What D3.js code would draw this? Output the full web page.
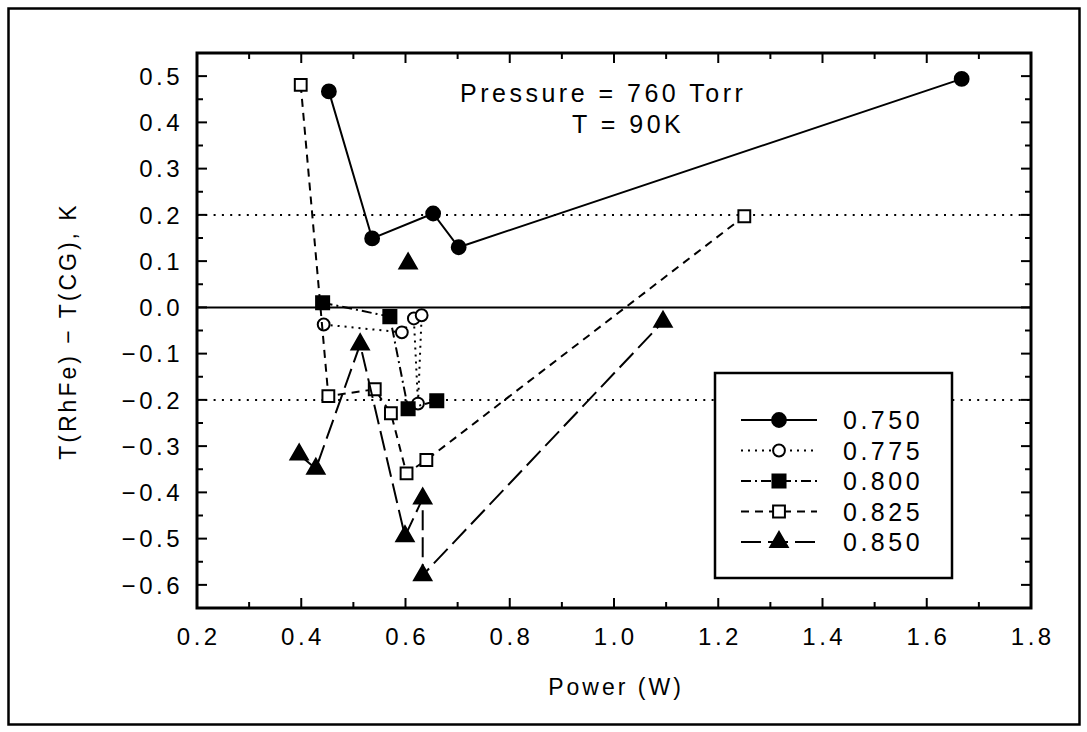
<!DOCTYPE html>
<html>
<head>
<meta charset="utf-8">
<script src="https://cdn.jsdelivr.net/npm/d3@7"></script>
<style>
  html, body { margin: 0; padding: 0; background: #fff; }
  svg text { font-family: "Liberation Sans", Arial, Helvetica, sans-serif; fill: #000; }
</style>
</head>
<body>
<div id="chart"></div>
<script>
// data
const seriesNames = ['0.750', '0.775', '0.800', '0.825', '0.850'];

const power750 = [0.453, 0.536, 0.653, 0.702, 1.667];
const dT750    = [0.467, 0.149, 0.203, 0.130, 0.494];

const power775 = [0.443, 0.593, 0.616, 0.624, 0.631];
const dT775    = [-0.037, -0.054, -0.024, -0.208, -0.017];

const power800 = [0.441, 0.570, 0.605, 0.660];
const dT800    = [0.010, -0.020, -0.219, -0.202];

const power825 = [0.399, 0.452, 0.541, 0.572, 0.602, 0.640, 1.250];
const dT825    = [0.481, -0.192, -0.177, -0.229, -0.359, -0.330, 0.197];

const power850 = [0.396, 0.428, 0.513, 0.599, 0.633, 0.633, 1.094];
const dT850    = [-0.318, -0.349, -0.080, -0.495, -0.413, -0.579, -0.031];
// lone triangle, not joined to the others
const power850Lone = [0.605];
const dT850Lone    = [0.095];

const xMajorTicks = [0.2, 0.4, 0.6, 0.8, 1.0, 1.2, 1.4, 1.6, 1.8];
const yMajorTicks = [-0.6, -0.5, -0.4, -0.3, -0.2, -0.1, 0.0, 0.1, 0.2, 0.3, 0.4, 0.5];
const refLines = [0.2, -0.2];
const noteLines = ['Pressure = 760 Torr', 'T = 90K'];

const W = 1087, H = 732;
const plot = { left: 197, right: 1031, top: 53, bottom: 608 };

const svg = d3.select('#chart').append('svg')
    .attr('width', W)
    .attr('height', H);

// outer frame
svg.append('rect')
    .attr('x', 8.5).attr('y', 8.5)
    .attr('width', 1071).attr('height', 716)
    .attr('fill', 'none')
    .attr('stroke', '#000')
    .attr('stroke-width', 2.5);

const x = d3.scaleLinear().domain([0.2, 1.8]).range([plot.left, plot.right]);
const y = d3.scaleLinear().domain([-0.65, 0.55]).range([plot.bottom, plot.top]);

const xMinor = d3.range(0.3, 1.8, 0.2);
const yMinor = d3.range(-0.65, 0.55, 0.1).filter(v => v > -0.65);

// reference lines
svg.append('g').selectAll('line')
    .data(refLines)
    .enter().append('line')
    .attr('x1', plot.left).attr('x2', plot.right)
    .attr('y1', d => y(d)).attr('y2', d => y(d))
    .attr('stroke', '#000')
    .attr('stroke-width', 2)
    .attr('stroke-dasharray', '2,6.3');

svg.append('line')
    .attr('x1', plot.left).attr('x2', plot.right)
    .attr('y1', y(0)).attr('y2', y(0))
    .attr('stroke', '#000')
    .attr('stroke-width', 2);

// axes, ticks pointing inwards on all four sides
function addTicks(g, values, len, side) {
    g.selectAll(null)
        .data(values)
        .enter().append('line')
        .attr('stroke', '#000')
        .attr('stroke-width', 2)
        .each(function(d) {
            const l = d3.select(this);
            if (side === 'bottom') l.attr('x1', x(d)).attr('x2', x(d)).attr('y1', plot.bottom).attr('y2', plot.bottom - len);
            if (side === 'top') l.attr('x1', x(d)).attr('x2', x(d)).attr('y1', plot.top).attr('y2', plot.top + len);
            if (side === 'left') l.attr('y1', y(d)).attr('y2', y(d)).attr('x1', plot.left).attr('x2', plot.left + len);
            if (side === 'right') l.attr('y1', y(d)).attr('y2', y(d)).attr('x1', plot.right).attr('x2', plot.right - len);
        });
}

const axes = svg.append('g').attr('class', 'axes');
['bottom', 'top'].forEach(s => {
    addTicks(axes, xMajorTicks.slice(1, -1), 10, s);
    addTicks(axes, xMinor, 6, s);
});
['left', 'right'].forEach(s => {
    addTicks(axes, yMajorTicks, 10, s);
    addTicks(axes, yMinor, 6, s);
});

axes.append('rect')
    .attr('x', plot.left).attr('y', plot.top)
    .attr('width', plot.right - plot.left)
    .attr('height', plot.bottom - plot.top)
    .attr('fill', 'none')
    .attr('stroke', '#000')
    .attr('stroke-width', 3);

const fmt = d3.format('.1f');
const tickFont = 24, spacing = 3.5;

axes.selectAll('.xlab')
    .data(xMajorTicks)
    .enter().append('text')
    .attr('class', 'xlab')
    .attr('x', d => x(d) + spacing / 2)
    .attr('y', 645)
    .attr('text-anchor', 'middle')
    .style('font-size', tickFont + 'px')
    .style('letter-spacing', spacing + 'px')
    .text(d => fmt(d));

axes.selectAll('.ylab')
    .data(yMajorTicks)
    .enter().append('text')
    .attr('class', 'ylab')
    .attr('x', 183)
    .attr('y', d => y(d))
    .attr('dy', '0.36em')
    .attr('text-anchor', 'end')
    .style('font-size', tickFont + 'px')
    .style('letter-spacing', spacing + 'px')
    .text(d => fmt(d));

svg.append('text')
    .attr('x', 616)
    .attr('y', 695)
    .attr('text-anchor', 'middle')
    .style('font-size', '23px')
    .style('letter-spacing', '3px')
    .text('Power (W)');

svg.append('text')
    .attr('transform', 'translate(68,331) rotate(-90)')
    .attr('dy', '0.36em')
    .attr('text-anchor', 'middle')
    .style('font-size', '23px')
    .style('letter-spacing', '3px')
    .text('T(RhFe) \u2212 T(CG), K');

// annotation
svg.append('text')
    .attr('x', 460).attr('y', 102)
    .style('font-size', '25px')
    .style('letter-spacing', '3.5px')
    .text(noteLines[0]);
svg.append('text')
    .attr('x', 572).attr('y', 133)
    .style('font-size', '25px')
    .style('letter-spacing', '3.5px')
    .text(noteLines[1]);

// series
const styles = [
    { dash: null,          symbol: d3.symbolCircle,   size: 150, fill: '#000' },
    { dash: '2,5',         symbol: d3.symbolCircle,   size: 110, fill: '#fff' },
    { dash: '10,4,2,4',    symbol: d3.symbolSquare,   size: 170, fill: '#000' },
    { dash: '8,6',         symbol: d3.symbolSquare,   size: 140, fill: '#fff' },
    { dash: '20,7',        symbol: d3.symbolTriangle, size: 130, fill: '#000' }
];

const series = [
    d3.zip(power750, dT750),
    d3.zip(power775, dT775),
    d3.zip(power800, dT800),
    d3.zip(power825, dT825),
    d3.zip(power850, dT850)
];

const line = d3.line().x(d => x(d[0])).y(d => y(d[1]));

series.forEach((pts, i) => {
    const st = styles[i];
    const g = svg.append('g').attr('class', 'series s' + i);
    g.append('path')
        .attr('d', line(pts))
        .attr('fill', 'none')
        .attr('stroke', '#000')
        .attr('stroke-width', 2)
        .attr('stroke-dasharray', st.dash);
    const marks = i === 4 ? pts.concat(d3.zip(power850Lone, dT850Lone)) : pts;
    g.selectAll('path.m')
        .data(marks)
        .enter().append('path')
        .attr('class', 'm')
        .attr('transform', d => `translate(${x(d[0])},${y(d[1])})`)
        .attr('d', d3.symbol().type(st.symbol).size(st.size))
        .attr('fill', st.fill)
        .attr('stroke', '#000')
        .attr('stroke-width', 2);
});

// legend
const legend = svg.append('g').attr('transform', 'translate(715,373)');
legend.append('rect')
    .attr('width', 237).attr('height', 205)
    .attr('fill', '#fff')
    .attr('stroke', '#000')
    .attr('stroke-width', 2.5);

const rowY = d3.scaleLinear().domain([0, 4]).range([47, 169]);
seriesNames.forEach((name, i) => {
    const st = styles[i];
    const ry = rowY(i);
    legend.append('line')
        .attr('x1', 26).attr('x2', 102)
        .attr('y1', ry).attr('y2', ry)
        .attr('stroke', '#000')
        .attr('stroke-width', 2)
        .attr('stroke-dasharray', st.dash);
    legend.append('path')
        .attr('transform', `translate(64,${ry})`)
        .attr('d', d3.symbol().type(st.symbol).size(st.size))
        .attr('fill', st.fill)
        .attr('stroke', '#000')
        .attr('stroke-width', 2);
    legend.append('text')
        .attr('x', 128).attr('y', ry)
        .attr('dy', '0.36em')
        .style('font-size', '25px')
        .style('letter-spacing', '3.5px')
        .text(name);
});
</script>
</body>
</html>
